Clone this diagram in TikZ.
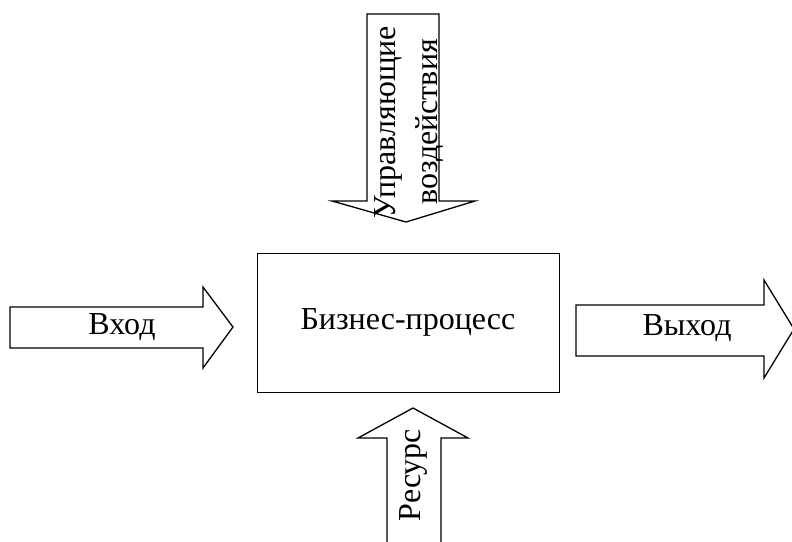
\documentclass[tikz,border=0pt]{standalone}
\usepackage{fontspec}
\setmainfont{Liberation Serif}
\begin{document}
\begin{tikzpicture}[x=1pt,y=-1pt,
  blockarrow/.style={draw=black,line width=1.3pt,line join=miter,fill=white},
  procbox/.style={draw=black,line width=0.9pt},
  lbl/.style={font=\fontsize{32}{42}\selectfont,inner sep=0pt,align=center}]
\useasboundingbox (0,0) rectangle (792,541);
\begin{scope}
\clip (0,0) rectangle (792,541);
% central box
\draw[procbox] (257,253) rectangle (559,392);
\node[lbl] (proc) at (408,322) {Бизнес-процесс};
% input arrow
\draw[blockarrow] (10,307) -- (203,307) -- (203,287) -- (233,327) -- (203,368) -- (203,348) -- (10,348) -- cycle;
\node[lbl] (in) at (122,327) {Вход};
% output arrow
\draw[blockarrow] (576,305) -- (764,305) -- (764,280) -- (794,329) -- (764,378) -- (764,356) -- (576,356) -- cycle;
\node[lbl] (out) at (687,328) {Выход};
% control arrow
\draw[blockarrow] (367,14) -- (439,14) -- (439,201) -- (475,201) -- (406,222) -- (332,201) -- (367,201) -- cycle;
\node[lbl,rotate=90] (ctrl) at (409,122) {Управляющие\\воздействия};
% resource arrow
\draw[blockarrow] (387,548) -- (387,438) -- (358,438) -- (413,408) -- (468,438) -- (441,438) -- (441,548) -- cycle;
\node[lbl,rotate=90] (res) at (413,475) {Ресурс};
\end{scope}
\end{tikzpicture}
\end{document}
